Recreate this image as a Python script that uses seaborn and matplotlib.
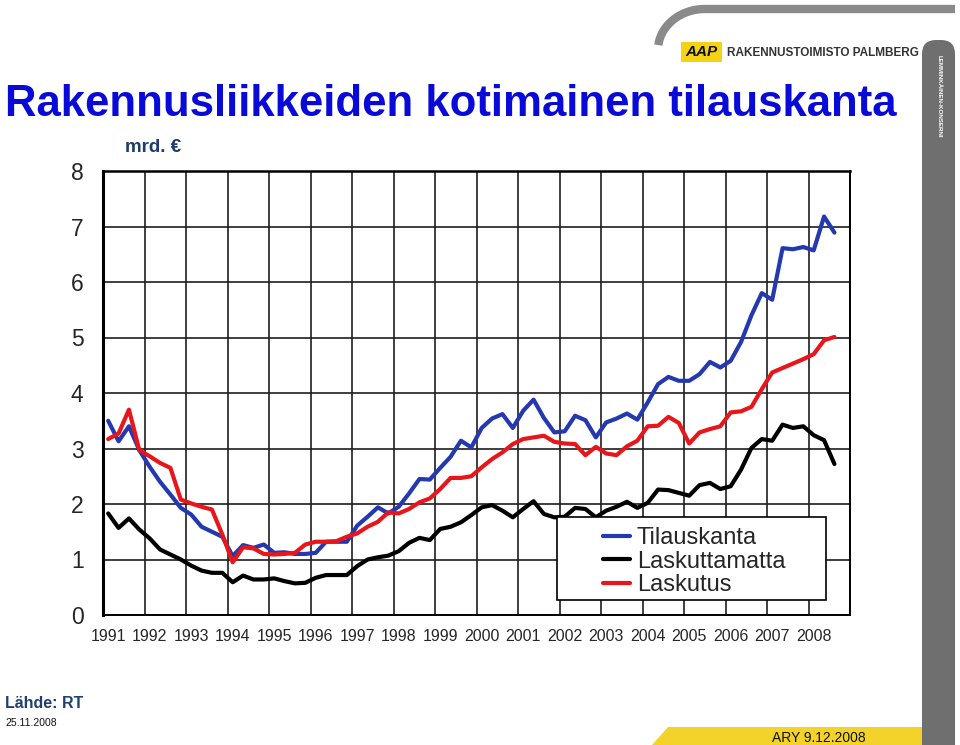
import numpy as np
import pandas as pd
import matplotlib
matplotlib.use("Agg")
import matplotlib.pyplot as plt
import seaborn as sns
from matplotlib.patches import Rectangle, Polygon, FancyBboxPatch
from matplotlib.lines import Line2D

# ---------------- data (quarterly, 1991Q1 .. 2008Q3), mrd. € ----------------
years = [str(y) for y in range(1991, 2009)]
series_names = ["Tilauskanta", "Laskuttamatta", "Laskutus"]
series_colors = ["#2438b0", "#000000", "#e8161b"]
y_ticks = [0, 1, 2, 3, 4, 5, 6, 7, 8]

tilauskanta = [
    3.50, 3.13, 3.40, 2.97, 2.67, 2.40, 2.17, 1.93, 1.81, 1.59, 1.50, 1.41,
    1.06, 1.26, 1.21, 1.27, 1.12, 1.13, 1.10, 1.10, 1.12, 1.32, 1.32, 1.32,
    1.61, 1.77, 1.94, 1.83, 1.95, 2.19, 2.45, 2.44, 2.65, 2.85, 3.14, 3.02,
    3.37, 3.54, 3.62, 3.37, 3.68, 3.88, 3.55, 3.29, 3.31, 3.59, 3.51, 3.20,
    3.47, 3.54, 3.63, 3.52, 3.83, 4.16, 4.29, 4.22, 4.22, 4.34, 4.56, 4.46,
    4.58, 4.92, 5.40, 5.80, 5.68, 6.61, 6.59, 6.63, 6.57, 7.18, 6.89,
]
laskuttamatta = [
    1.83, 1.57, 1.74, 1.54, 1.38, 1.18, 1.09, 1.00, 0.89, 0.80, 0.76, 0.76,
    0.59, 0.71, 0.64, 0.64, 0.66, 0.61, 0.57, 0.58, 0.67, 0.72, 0.72, 0.72,
    0.88, 1.00, 1.04, 1.07, 1.15, 1.30, 1.39, 1.35, 1.55, 1.59, 1.67, 1.80,
    1.94, 1.98, 1.88, 1.76, 1.91, 2.05, 1.82, 1.76, 1.77, 1.93, 1.91, 1.76,
    1.88, 1.95, 2.04, 1.93, 2.02, 2.26, 2.25, 2.20, 2.15, 2.34, 2.38, 2.27,
    2.32, 2.62, 3.01, 3.17, 3.14, 3.43, 3.37, 3.40, 3.24, 3.15, 2.72,
]
laskutus = [
    3.17, 3.27, 3.70, 2.97, 2.86, 2.74, 2.65, 2.08, 2.01, 1.95, 1.90, 1.45,
    0.95, 1.22, 1.20, 1.10, 1.09, 1.10, 1.12, 1.27, 1.32, 1.32, 1.33, 1.41,
    1.47, 1.59, 1.68, 1.85, 1.83, 1.91, 2.03, 2.10, 2.27, 2.47, 2.47, 2.50,
    2.66, 2.81, 2.93, 3.08, 3.17, 3.20, 3.23, 3.12, 3.09, 3.08, 2.88, 3.03,
    2.91, 2.88, 3.04, 3.14, 3.40, 3.41, 3.57, 3.46, 3.09, 3.29, 3.35, 3.40,
    3.65, 3.67, 3.75, 4.07, 4.37, 4.45, 4.53, 4.61, 4.70, 4.95, 5.01,
]

n = len(tilauskanta)
df = pd.DataFrame({
    "q": np.tile(np.arange(n), 3),
    "value": tilauskanta + laskuttamatta + laskutus,
    "series": np.repeat(series_names, n),
})

# ---------------- style ----------------
sns.set_style("white")
plt.rcParams["font.family"] = ["Liberation Sans", "DejaVu Sans"]

W, H = 960, 745
fig = plt.figure(figsize=(W / 100, H / 100), dpi=100)

# decoration layer in pixel coordinates
deco = fig.add_axes([0, 0, 1, 1], zorder=0)
deco.set_xlim(0, W)
deco.set_ylim(H, 0)
deco.axis("off")

# plot area
ax = fig.add_axes([103 / W, 1 - 615 / H, 747 / W, 444 / H], zorder=1)
sns.lineplot(data=df, x="q", y="value", hue="series", hue_order=series_names,
             palette=series_colors, linewidth=3, errorbar=None, legend=False,
             ax=ax)

n_slots = len(years) * 4
ax.set_xlim(-0.5, n_slots - 0.5)
ax.set_ylim(y_ticks[0], y_ticks[-1])
ax.set_xlabel("")
ax.set_ylabel("")

# year boundaries -> grid + small tick marks; year labels as minor ticks
major_x = np.arange(-0.5, n_slots, 4)
ax.set_xticks(major_x)
ax.set_xticklabels([""] * len(major_x))
ax.set_xticks(np.arange(0, n_slots, 4), minor=True)
ax.set_xticklabels(years, minor=True)
ax.tick_params(axis="x", which="major", length=5, width=1, color="#333333",
               direction="out")
ax.tick_params(axis="x", which="minor", length=0, pad=10, labelsize=11.5)

ax.set_yticks(y_ticks)
ax.set_yticklabels([str(v) for v in y_ticks])
ax.tick_params(axis="y", length=8, width=1.3, direction="out", pad=6,
               labelsize=16.5)

ax.grid(True, which="major", color="#1e1e1e", linewidth=1.2)
ax.set_axisbelow(True)
for side, sp in ax.spines.items():
    sp.set_visible(True)
    sp.set_color("black")
    sp.set_linewidth(1.4)
ax.spines["left"].set_linewidth(2.2)
ax.spines["top"].set_linewidth(1.8)

# legend box
ax.add_patch(Rectangle((0.6078, 0.0338), 0.360, 0.187, transform=ax.transAxes,
                       facecolor="white", edgecolor="black", linewidth=1.2,
                       zorder=5))
handles = [Line2D([], [], color=c, linewidth=3) for c in series_colors]
leg = ax.legend(handles, series_names, loc="upper left",
                bbox_to_anchor=(0.669, 0.198), frameon=False, fontsize=17,
                handlelength=1.15, handletextpad=0.3, labelspacing=0.07,
                borderpad=0, borderaxespad=0)
leg.set_zorder(6)

# unit label
fig.text(125 / W, 1 - 148 / H, "mrd. €", fontsize=13.5, fontweight="bold",
         color="#1d3c70", va="center", ha="left")

# title
fig.text(5 / W, 1 - 104 / H, "Rakennusliikkeiden kotimainen tilauskanta",
         fontsize=31.5, fontweight="bold", color="#0a0ad8", va="center",
         ha="left")

# ---------------- corporate decorations ----------------
theta = np.linspace(0.12, np.pi / 2, 40)
arc_x = 705 - 47 * np.cos(theta)
arc_y = 50 - 41 * np.sin(theta)
deco.plot(np.r_[arc_x, 955], np.r_[arc_y, 9], color="#8a8a8a", linewidth=6,
          solid_capstyle="butt")

deco.add_patch(FancyBboxPatch((922, 40), 33, 720,
                              boxstyle="round,pad=0,rounding_size=14",
                              facecolor="#6f6f6f", edgecolor="none"))
deco.text(939, 55, "LEMMINKÄINEN-KONSERNI", rotation=270, fontsize=4.5,
          color="white", fontweight="bold", ha="center", va="top")

deco.add_patch(Rectangle((681, 42), 41, 20, facecolor="#f5d314",
                         edgecolor="none"))
deco.text(701.5, 52.5, "AAP", fontsize=11, fontweight="bold", style="italic",
          color="#111111", ha="center", va="center")
deco.text(727, 53, "RAKENNUSTOIMISTO PALMBERG", fontsize=8.5,
          fontweight="bold", color="#333333", ha="left", va="center")

deco.add_patch(Polygon([(652, 745), (668, 727), (922, 727), (922, 745)],
                       closed=True, facecolor="#f3d22a", edgecolor="none"))
deco.text(819, 738, "ARY 9.12.2008", fontsize=10, color="#111111",
          ha="center", va="center")

deco.text(5, 703, "Lähde: RT", fontsize=11.5, fontweight="bold",
          color="#1f3f6f", ha="left", va="center")
deco.text(5, 723, "25.11.2008", fontsize=7.5, color="#111111", ha="left",
          va="center")

fig.savefig("out.png", dpi=100)
